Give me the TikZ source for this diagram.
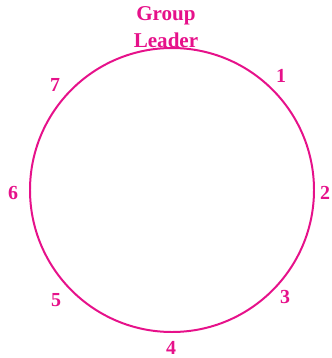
\documentclass[tikz,border=0pt]{standalone}
\usepackage{fontspec}
\setmainfont{Liberation Serif}
\usepackage{xcolor}
\usepackage{tikz}
\usetikzlibrary{positioning}
\definecolor{rim}{HTML}{E6118A}
\tikzset{
  seat/.style={text=rim, font=\fontsize{17}{19}\selectfont\bfseries, inner sep=0pt},
  ring/.style={draw=rim, line width=1.7pt},
}

\begin{document}
\begin{tikzpicture}[x=0.3mm,y=-0.3mm]
        \useasboundingbox (0,0) rectangle (331,358);
        \node[ring, circle, minimum size=284*0.3mm, inner sep=0pt] (C) at (172,190) {};
        \node[seat, align=center, font=\fontsize{18}{23}\selectfont\bfseries] (L) at (166,27) {Group\\Leader};
        \node[seat] (s1) at (281,76)  {1};
        \node[seat] (s2) at (325,193) {2};
        \node[seat] (s3) at (285,297) {3};
        \node[seat] (s4) at (171,348) {4};
        \node[seat] (s5) at (56,300)  {5};
        \node[seat] (s6) at (13,193)  {6};
        \node[seat] (s7) at (55,85)   {7};
      \end{tikzpicture}
\end{document}
